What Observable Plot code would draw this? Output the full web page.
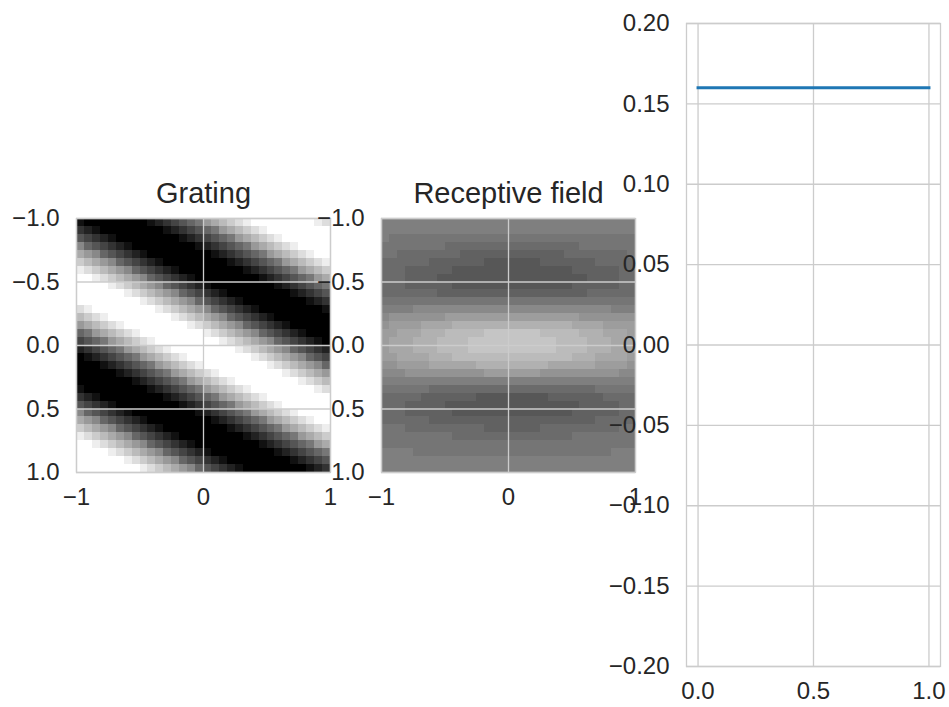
<!DOCTYPE html>
<html>
<head>
<meta charset="utf-8">
<script src="https://cdn.jsdelivr.net/npm/d3@7"></script>
<script src="https://cdn.jsdelivr.net/npm/@observablehq/plot@0.6"></script>
<style>
  html, body { margin: 0; padding: 0; background: #ffffff; }
  #fig { position: relative; width: 949px; height: 707px; overflow: hidden; background: #ffffff; }
  #fig > svg { position: absolute; }
</style>
</head>
<body>
<div id="fig"></div>
<script>
// ---------------- data ----------------
const titles = ["Grating", "Receptive field"];
const imageExtent = [-1, 1];

// grating image, 32 x 32 pixels, each hex digit = grey level 0 (black) .. f (white)
const gratingRows = [
  "10000000" + "01234567" + "9abcdeff" + "ffffffed",
  "32100000" + "00012345" + "679abcde" + "ffffffff",
  "54321000" + "00000123" + "45679abc" + "deffffff",
  "86543210" + "00000001" + "2345679a" + "bcdeffff",
  "a9865432" + "10000000" + "01234567" + "9abcdeff",
  "cba98654" + "32100000" + "00012345" + "679abcde",
  "edcba986" + "54321000" + "00000123" + "45679abc",
  "ffedcba9" + "86543210" + "00000001" + "2345679a",
  "ffffedcb" + "a9865432" + "10000000" + "01234567",
  "ffffffed" + "cba98654" + "32100000" + "00012345",
  "ffffffff" + "edcba986" + "54321000" + "00000123",
  "deffffff" + "ffedcba9" + "86543210" + "00000001",
  "bcdeffff" + "ffffedcb" + "a9865432" + "10000000",
  "9abcdeff" + "ffffffed" + "cba98654" + "32100000",
  "679abcde" + "ffffffff" + "edcba986" + "54321000",
  "45679abc" + "deffffff" + "ffedcba9" + "86543210",
  "2345679a" + "bcdeffff" + "ffffedcb" + "a9865432",
  "01234567" + "9abcdeff" + "ffffffed" + "cba98654",
  "00012345" + "679abcde" + "ffffffff" + "edcba986",
  "00000123" + "45679abc" + "deffffff" + "ffedcba9",
  "00000001" + "2345679a" + "bcdeffff" + "ffffedcb",
  "10000000" + "01234567" + "9abcdeff" + "ffffffed",
  "32100000" + "00012345" + "679abcde" + "ffffffff",
  "54321000" + "00000123" + "45679abc" + "deffffff",
  "86543210" + "00000001" + "2345679a" + "bcdeffff",
  "a9865432" + "10000000" + "01234567" + "9abcdeff",
  "cba98654" + "32100000" + "00012345" + "679abcde",
  "edcba986" + "54321000" + "00000123" + "45679abc",
  "ffedcba9" + "86543210" + "00000001" + "2345679a",
  "ffffedcb" + "a9865432" + "10000000" + "01234567",
  "ffffffed" + "cba98654" + "32100000" + "00012345",
  "ffffffff" + "edcba986" + "54321000" + "00000123"
];

// receptive field image, 32 x 32 pixels, hex grey levels (7 = mid grey background)
const rfRows = [
  "77777777" + "77777777" + "77777777" + "77777777",
  "77777777" + "77777777" + "77777777" + "77777777",
  "76666666" + "66666666" + "66666666" + "66666666",
  "66666666" + "55555555" + "55555555" + "56666666",
  "66555555" + "55444444" + "44444445" + "55555556",
  "55555544" + "44444333" + "33334444" + "44455555",
  "55544444" + "43333333" + "33333333" + "44444455",
  "55544443" + "33333333" + "33333333" + "33444455",
  "55544444" + "43333333" + "33333333" + "44444455",
  "55555554" + "44444444" + "44444444" + "44555555",
  "66666666" + "66666666" + "66666666" + "66666666",
  "77778888" + "88888888" + "88888888" + "88888777",
  "89999999" + "aaaaaaaa" + "aaaaaaaa" + "a9999999",
  "9aaaabbb" + "bccccccc" + "cccccccc" + "bbbbaaaa",
  "aabbbccc" + "dddddeee" + "eeeedddd" + "dcccbbba",
  "abbbcccd" + "dddeeeee" + "eeeeeedd" + "ddcccbbb",
  "abbbcccd" + "dddeeeee" + "eeeeeedd" + "ddcccbbb",
  "aabbbbcc" + "cddddddd" + "dddddddd" + "cccbbbba",
  "99aaaabb" + "bbbbcccc" + "cccccbbb" + "bbbaaaa9",
  "88899999" + "99999aaa" + "aaaa9999" + "99999988",
  "77777777" + "77777777" + "77777777" + "77777777",
  "66666655" + "55555555" + "55555555" + "55566666",
  "55555444" + "44443333" + "33333444" + "44445555",
  "55544444" + "33333333" + "33333333" + "34444455",
  "55544444" + "43333333" + "33333333" + "44444455",
  "55555544" + "44444444" + "44444444" + "44455555",
  "66655555" + "55555444" + "44445555" + "55555566",
  "66666666" + "65555555" + "55555555" + "66666666",
  "66666666" + "66666666" + "66666666" + "66666666",
  "77776666" + "66666666" + "66666666" + "66666777",
  "77777777" + "77777777" + "77777777" + "77777777",
  "77777777" + "77777777" + "77777777" + "77777777"
];

const imgXTicks = [-1, 0, 1];
const imgXTickLabels = ["\u22121", "0", "1"];
const imgYTicks = [-1, -0.5, 0, 0.5, 1];
const imgYTickLabels = ["\u22121.0", "\u22120.5", "0.0", "0.5", "1.0"];

const lineX = [0, 1];
const lineY = [0.16, 0.16];
const lineXDomain = [-0.05, 1.05];
const lineYDomain = [-0.2, 0.2];
const lineXTicks = [0, 0.5, 1];
const lineXTickLabels = ["0.0", "0.5", "1.0"];
const lineYTicks = [-0.2, -0.15, -0.1, -0.05, 0, 0.05, 0.1, 0.15, 0.2];
const lineYTickLabels = ["\u22120.20", "\u22120.15", "\u22120.10", "\u22120.05", "0.00", "0.05", "0.10", "0.15", "0.20"];

// ---------------- build ----------------
function cells(rows) {
  const n = rows.length;
  const [a, b] = imageExtent;
  const out = [];
  rows.forEach((row, r) => {
    const m = row.length;
    for (let c = 0; c < m; c++) {
      out.push({
        x1: a + (b - a) * c / m, x2: a + (b - a) * (c + 1) / m,
        y1: a + (b - a) * r / n, y2: a + (b - a) * (r + 1) / n,
        v: parseInt(row[c], 16)
      });
    }
  });
  return out;
}

const FONT = '"Liberation Sans", Arial, Helvetica, sans-serif';
const TEXT = "#262626";
const GRID = "#cccccc";
const TICK_SIZE = 24;
const TITLE_SIZE = 29;
const baseStyle = { background: "transparent", overflow: "visible", fontFamily: FONT, fontSize: TICK_SIZE + "px", color: TEXT };
const lookup = (ticks, labels) => d => labels[ticks.indexOf(d)];

function imagePlot(rows, title, greyRange, marginLeft) {
  return Plot.plot({
    width: marginLeft + 254 + 20, height: 360,
    marginLeft, marginRight: 20, marginTop: 58, marginBottom: 48,
    style: baseStyle,
    x: { domain: imageExtent, label: null },
    y: { domain: imageExtent, reverse: true, label: null },
    color: { type: "linear", domain: [0, 15], range: greyRange, interpolate: "rgb" },
    marks: [
      Plot.rect(cells(rows), { x1: "x1", x2: "x2", y1: "y1", y2: "y2", fill: "v", shapeRendering: "crispEdges" }),
      Plot.gridX(imgXTicks, { stroke: GRID, strokeOpacity: 1, strokeWidth: 1.3 }),
      Plot.gridY(imgYTicks, { stroke: GRID, strokeOpacity: 1, strokeWidth: 1.3 }),
      Plot.frame({ stroke: GRID, strokeWidth: 1.3 }),
      Plot.axisX(imgXTicks, { tickSize: 0, tickPadding: 15, label: null, tickFormat: lookup(imgXTicks, imgXTickLabels), fontSize: TICK_SIZE, fill: TEXT }),
      Plot.axisY(imgYTicks, { tickSize: 0, tickPadding: 17, label: null, tickFormat: lookup(imgYTicks, imgYTickLabels), fontSize: TICK_SIZE, fill: TEXT }),
      Plot.text([title], { text: d => d, frameAnchor: "top", lineAnchor: "bottom", dy: -16, fontSize: TITLE_SIZE, fill: TEXT })
    ]
  });
}

const fig = document.getElementById("fig");

const p1 = imagePlot(gratingRows, titles[0], ["#000000", "#ffffff"], 76);
p1.style.left = "0px"; p1.style.top = "160px";
fig.appendChild(p1);

const p2 = imagePlot(rfRows, titles[1], ["rgb(57,57,57)", "rgb(207,207,207)"], 81);
p2.style.left = "300px"; p2.style.top = "160px";
fig.appendChild(p2);

const lineData = lineX.map((x, i) => ({ x, y: lineY[i] }));
const p3 = Plot.plot({
  width: 349, height: 707,
  marginLeft: 86, marginRight: 9, marginTop: 23, marginBottom: 41,
  style: baseStyle,
  x: { domain: lineXDomain, label: null },
  y: { domain: lineYDomain, label: null },
  marks: [
    Plot.gridX(lineXTicks, { stroke: GRID, strokeOpacity: 1, strokeWidth: 1.3 }),
    Plot.gridY(lineYTicks, { stroke: GRID, strokeOpacity: 1, strokeWidth: 1.3 }),
    Plot.frame({ stroke: GRID, strokeWidth: 1.3 }),
    Plot.line(lineData, { x: "x", y: "y", stroke: "#1f77b4", strokeWidth: 3, strokeLinecap: "square" }),
    Plot.axisX(lineXTicks, { tickSize: 0, tickPadding: 15, label: null, tickFormat: lookup(lineXTicks, lineXTickLabels), fontSize: TICK_SIZE, fill: TEXT }),
    Plot.axisY(lineYTicks, { tickSize: 0, tickPadding: 17, label: null, tickFormat: lookup(lineYTicks, lineYTickLabels), fontSize: TICK_SIZE, fill: TEXT })
  ]
});
p3.style.left = "600px"; p3.style.top = "0px";
fig.appendChild(p3);
</script>
</body>
</html>
